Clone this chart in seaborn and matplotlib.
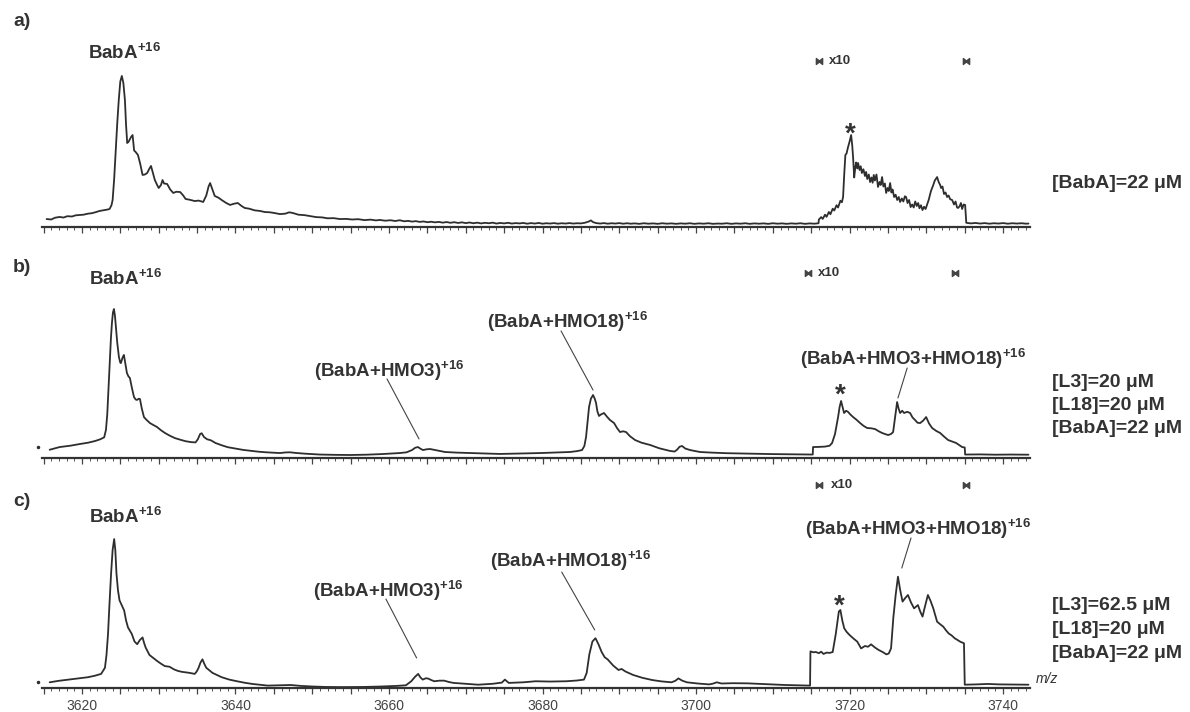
import numpy as np
import pandas as pd
import seaborn as sns
import matplotlib
matplotlib.use("Agg")
import matplotlib.pyplot as plt
from matplotlib.ticker import MultipleLocator, FuncFormatter

# ---------------- data (m/z, relative intensity) ----------------
a_mz = [3615.4, 3616.0, 3616.5, 3617.1, 3617.6, 3618.1, 3618.7, 3619.2, 3619.7, 3620.2, 3620.8, 3621.3,
        3621.8, 3622.3, 3622.9, 3623.3, 3623.6, 3623.85, 3624.0, 3624.2, 3624.4, 3624.6, 3624.8, 3625.0,
        3625.2, 3625.4, 3625.6, 3625.75, 3625.9, 3626.1, 3626.4, 3626.6, 3626.7, 3626.8, 3627.0, 3627.3,
        3627.6, 3627.9, 3628.2, 3628.5, 3628.8, 3629.0, 3629.3, 3629.5, 3629.8, 3630.0, 3630.3, 3630.5,
        3630.7, 3631.1, 3631.5, 3631.9, 3632.3, 3632.8, 3633.2, 3633.5, 3634.0, 3634.7, 3635.2, 3635.8,
        3636.2, 3636.5, 3636.7, 3637.0, 3637.3, 3637.8, 3638.2, 3638.8, 3639.3, 3639.8, 3640.3, 3640.8,
        3641.2, 3641.8, 3642.5, 3643.2, 3643.8, 3644.5, 3645.1, 3645.8, 3646.5, 3647.0, 3647.5, 3648.2,
        3649.0, 3649.7, 3650.5, 3651.3, 3652.0, 3652.8, 3653.6, 3654.4, 3655.2, 3656.0, 3656.8, 3657.6,
        3658.3, 3658.8, 3659.5, 3660.2, 3660.8, 3661.4,
        3662.0, 3662.5, 3663.0, 3663.5, 3664.0, 3664.5, 3665.0, 3665.5, 3666.0, 3666.5, 3667.0, 3667.5,
        3668.0, 3668.5, 3669.0, 3669.5, 3670.0, 3670.5, 3671.0, 3671.5, 3672.0, 3672.5, 3673.0, 3673.5,
        3674.0, 3674.5, 3675.0, 3675.5, 3676.0, 3676.5, 3677.0, 3677.5, 3678.0, 3678.5, 3679.0, 3679.5,
        3680.0, 3680.5, 3681.0, 3681.5, 3682.0, 3682.5, 3683.0, 3683.5, 3684.0, 3684.5, 3685.0, 3685.5,
        3686.0, 3686.3, 3686.6, 3687.0, 3687.5, 3688.0, 3688.5, 3689.0, 3689.5, 3690.0, 3690.5, 3691.0,
        3691.5, 3692.0, 3692.6, 3693.2, 3693.8, 3694.4, 3695.0, 3695.6, 3696.2, 3696.8, 3697.4, 3698.0,
        3698.6, 3699.2, 3699.8, 3700.4, 3701.0, 3701.6, 3702.2, 3702.8, 3703.4, 3704.0, 3704.6, 3705.2,
        3705.8, 3706.4, 3707.0, 3707.6, 3708.2, 3708.8, 3709.4, 3710.0, 3710.6, 3711.2, 3711.8, 3712.4,
        3713.0, 3713.6, 3714.2, 3714.8, 3715.4, 3715.95,
        3716.0, 3716.3, 3716.5, 3716.8, 3717.0, 3717.3, 3717.5, 3717.8, 3718.0, 3718.3, 3718.5, 3718.8,
        3719.0, 3719.15, 3719.3, 3719.45, 3719.6, 3719.8, 3720.0, 3720.2, 3720.35, 3720.46, 3720.6, 3720.75,
        3720.85, 3721.0, 3721.1, 3721.3, 3721.45, 3721.6, 3721.8, 3722.0, 3722.15, 3722.3, 3722.5, 3722.67,
        3722.85, 3723.0, 3723.15, 3723.3, 3723.5, 3723.7, 3723.9, 3724.05, 3724.23, 3724.4, 3724.6, 3724.76,
        3724.95, 3725.1, 3725.28, 3725.45, 3725.6, 3725.8, 3726.0, 3726.2, 3726.4, 3726.58, 3726.8, 3727.0,
        3727.2, 3727.36, 3727.55, 3727.75, 3727.95, 3728.15, 3728.35, 3728.55, 3728.75, 3728.93, 3729.1, 3729.3,
        3729.5, 3729.7, 3729.9, 3730.1, 3730.3, 3730.6, 3730.9, 3731.1, 3731.4, 3731.6, 3731.8, 3731.92,
        3732.1, 3732.3, 3732.5, 3732.7, 3732.9, 3733.1, 3733.36, 3733.6, 3733.8, 3734.0, 3734.14, 3734.35,
        3734.5, 3734.66, 3734.85, 3735.05, 3735.2,
        3735.8, 3736.4, 3737.0, 3737.6, 3738.2, 3738.8, 3739.4, 3740.0, 3740.6, 3741.2, 3741.8, 3742.4,
        3743.0, 3743.3]
a_int = [3.3, 3.0, 4.2, 4.7, 4.3, 5.2, 5.0, 5.8, 6.0, 6.2, 6.9, 7.2,
         7.9, 8.7, 9.2, 9.6, 10.0, 12.5, 16, 30, 49, 67, 82.7, 95,
         98.7, 94, 82.7, 66, 54, 55, 58, 59.3, 54, 49, 48, 46,
         40, 32.7, 33, 34, 37, 38.7, 33, 29.3, 26, 24, 26, 29.3,
         27, 26.7, 23, 20.7, 21.5, 21.3, 19, 16.7, 16.2, 15.3, 15.6, 14.7,
         19, 25, 27.3, 23, 18.7, 17.5, 16, 14, 12.7, 13.5, 14, 12,
         10.7, 10.2, 9.1, 8.7, 8.0, 7.8, 7.3, 6.6, 6.9, 7.8, 7.3, 6.2,
         5.9, 5.3, 4.6, 4.4, 3.8, 3.9, 3.3, 3.4, 3.0, 3.2, 2.6, 2.9,
         2.4, 2.7, 2.2, 2.5, 2.0, 2.5,
         1.8, 2.1, 1.6, 1.9, 1.4, 1.7, 1.2, 1.5, 1.1, 1.4, 0.9, 1.3,
         0.8, 1.2, 0.7, 1.1, 0.6, 1.0, 0.5, 0.9, 0.4, 0.8, 0.5, 0.9,
         0.3, 0.7, 0.4, 0.8, 0.3, 0.6, 0.4, 0.7, 0.2, 0.6, 0.3, 0.7,
         0.2, 0.5, 0.3, 0.6, 0.2, 0.5, 0.3, 0.6, 0.3, 0.5, 0.4, 0.8,
         1.6, 2.4, 1.2, 0.6, 0.3, 0.6, 0.2, 0.5, 0.3, 0.6, 0.2, 0.5,
         0.2, 0.4, 0.1, 0.5, 0.2, 0.4, 0.1, 0.5, 0.2, 0.4, 0.1, 0.4,
         0.2, 0.5, 0.1, 0.4, 0.2, 0.5, 0.1, 0.3, 0.2, 0.5, 0.1, 0.4,
         0.2, 0.5, 0.1, 0.4, 0.2, 0.4, 0.1, 0.5, 0.2, 0.4, 0.1, 0.4,
         0.2, 0.5, 0.1, 0.4, 0.2, 0.5,
         3.0, 4.6, 3.4, 6.2, 4.8, 8.0, 6.5, 10.2, 9.0, 12.5, 11.0, 15.5,
         14.5, 18, 33, 46, 47, 51.3, 55, 59.3, 52, 44, 31, 38,
         41, 37, 40.7, 36, 38.5, 34, 36.5, 32, 34.7, 30, 33, 28,
         31, 27.5, 32.7, 29, 33, 24.7, 28, 26, 31.3, 25, 27, 20.7,
         24, 22, 27.3, 21, 23, 18, 19.5, 16, 18, 14.7, 17, 15,
         18.5, 18, 14, 16, 11.3, 13, 11, 15, 12, 14, 10.5, 12.5,
         9.3, 11.5, 10, 13, 16, 22, 26, 29, 31.3, 28, 26, 24,
         25, 20, 21, 18, 19, 16.5, 16, 13, 15, 11, 10.7, 12,
         14, 10, 13, 12.7, 0.8,
         0.4, 0.7, 0.3, 0.6, 0.2, 0.5, 0.3, 0.6, 0.2, 0.5, 0.3, 0.5,
         0.2, 0.3]

b_mz = [3615.8, 3617.1, 3618.5, 3619.7, 3620.8, 3621.7, 3622.4, 3622.9, 3623.13, 3623.3, 3623.39, 3623.52,
        3623.65, 3623.78, 3623.91, 3624.04, 3624.17, 3624.3, 3624.43, 3624.6, 3624.82, 3625.0, 3625.08, 3625.3,
        3625.47, 3625.65, 3625.86, 3626.05, 3626.25, 3626.5, 3626.78, 3627.0, 3627.17, 3627.4, 3627.56, 3627.8,
        3628.08, 3628.4, 3628.86, 3629.3, 3629.77, 3630.3, 3630.81, 3631.4, 3632.1, 3632.8, 3633.5, 3634.2,
        3634.8, 3635.1, 3635.4, 3635.6, 3635.9, 3636.3, 3636.8, 3637.4, 3638.2, 3639.0, 3640.0, 3641.0,
        3642.0, 3643.0, 3644.0, 3645.0, 3645.8, 3646.5, 3647.1, 3647.8, 3649.0, 3651.0, 3653.0, 3654.9,
        3657.0, 3659.0, 3661.4, 3662.3, 3663.0, 3663.4, 3663.78, 3664.1, 3664.43, 3664.9, 3665.34, 3666.3,
        3667.3, 3668.8, 3670.55, 3672.5, 3674.46, 3676.5, 3678.0, 3679.67, 3681.5, 3683.58, 3684.5, 3685.15,
        3685.45, 3685.67, 3685.87, 3686.06, 3686.3, 3686.58, 3686.8, 3686.97, 3687.15, 3687.36, 3687.6, 3688.01,
        3688.4, 3688.79, 3689.32, 3689.7, 3690.1, 3690.5, 3690.88, 3691.4, 3692.05, 3692.9, 3694.01, 3695.2,
        3696.61, 3697.2, 3697.52, 3697.85, 3698.18, 3698.6, 3699.22, 3700.52, 3702.0, 3704.0, 3706.0, 3708.0,
        3710.0, 3712.0, 3714.0, 3715.2, 3715.24, 3716.0, 3716.8, 3717.4, 3717.72, 3718.1, 3718.5, 3718.7,
        3718.89, 3719.08, 3719.28, 3719.55, 3719.8, 3720.1, 3720.46, 3720.9, 3721.37, 3721.8, 3722.28, 3722.8,
        3723.32, 3723.8, 3724.23, 3724.6, 3725.02, 3725.4, 3725.67, 3725.9, 3726.19, 3726.38, 3726.58, 3726.85,
        3727.1, 3727.5, 3727.88, 3728.2, 3728.53, 3728.85, 3729.19, 3729.6, 3729.97, 3730.35, 3730.75, 3731.3,
        3731.79, 3732.3, 3732.83, 3733.35, 3733.88, 3734.3, 3734.66, 3735.0, 3735.05, 3737.0, 3739.0, 3741.0,
        3743.3]
b_int = [3.5, 5.3, 6.2, 7.3, 8.2, 9.3, 10.5, 11.8, 16.7, 27, 36.7, 50,
         65.3, 78, 88, 95, 97.3, 93, 85.3, 75, 65.3, 61.5, 61.3, 65,
         66.7, 61, 54.7, 52.5, 51.3, 45, 38.7, 37, 36.7, 37.5, 37.3, 31,
         25.3, 23.5, 21.3, 20, 18.7, 16.5, 14.7, 13, 11.3, 10.2, 9.2, 8.6,
         8.4, 10.5, 14, 14.5, 12, 10.5, 9.8, 8, 6.5, 5.2, 4.3, 3.4,
         2.8, 2.2, 1.8, 1.5, 1.3, 1.7, 1.8, 1.4, 0.9, 0.3, 0.1, 0.0,
         0.2, 0.6, 1.3, 1.8, 3.3, 4.8, 5.3, 4.2, 3.3, 3.8, 4.0, 3.0,
         2.0, 1.6, 1.3, 0.9, 0.7, 0.9, 1.1, 1.3, 1.6, 2.0, 2.6, 3.3,
         6, 12, 22, 32, 37.5, 40, 37.5, 34.7, 29, 26, 27, 28,
         25.5, 23.3, 21.3, 18, 15.3, 15.8, 15.3, 12.5, 10, 8.2, 6.7, 4.5,
         2.7, 2.3, 3.5, 5.5, 6.0, 4.3, 3.3, 2.0, 1.6, 1.2, 1.0, 0.8,
         0.6, 0.5, 0.4, 0.3, 5.3, 5.4, 5.6, 6.2, 8, 14, 25.3, 32,
         36, 32, 28, 29.5, 28.7, 27, 25.3, 23.5, 21.3, 19.5, 18, 17.8,
         17.3, 15.8, 14.7, 14, 13.3, 14, 15.3, 24, 35.3, 31, 28, 29.5,
         28, 28.8, 28, 25, 23.3, 21.5, 21.3, 23, 25.3, 21, 18, 16,
         14.7, 12.3, 10, 9, 8, 6.5, 5.3, 5.0, 0.3, 0.4, 0.2, 0.3,
         0.2]

c_mz = [3615.8, 3617.0, 3618.3, 3619.5, 3620.8, 3621.7, 3622.5, 3623.0, 3623.2, 3623.4, 3623.6, 3623.8,
        3624.0, 3624.2, 3624.35, 3624.5, 3624.7, 3624.9, 3625.2, 3625.5, 3625.75, 3626.0, 3626.5, 3626.85,
        3627.2, 3627.55, 3627.9, 3628.1, 3628.3, 3628.8, 3629.3, 3629.8, 3630.3, 3630.8, 3631.4, 3632.0,
        3632.5, 3633.0, 3634.0, 3634.7, 3634.95, 3635.2, 3635.45, 3635.7, 3635.95, 3636.2, 3637.0, 3638.2,
        3639.2, 3640.2, 3641.2, 3642.2, 3644.2, 3645.7, 3647.2, 3648.5, 3650.0, 3651.7, 3654.0, 3656.7,
        3659.0, 3661.0, 3662.2, 3662.9, 3663.4, 3663.8, 3664.1, 3664.4, 3664.8, 3665.1, 3665.5, 3665.9,
        3666.6, 3667.2, 3667.8, 3668.4, 3670.0, 3671.6, 3673.5, 3674.7, 3675.1, 3675.6, 3677.5, 3679.1,
        3681.0, 3683.1, 3684.5, 3685.4, 3685.75, 3686.1, 3686.5, 3686.9, 3687.3, 3687.7, 3688.1, 3688.5,
        3689.2, 3689.9, 3690.3, 3690.8, 3691.8, 3693.0, 3694.3, 3695.5, 3696.8, 3697.3, 3697.7, 3698.2,
        3698.8, 3700.2, 3701.7, 3702.2, 3702.7, 3703.3, 3704.8, 3706.7, 3708.8, 3711.6, 3714.6, 3714.85,
        3714.9, 3715.3, 3715.6, 3716.0, 3716.3, 3716.6, 3717.0, 3717.4, 3717.8, 3718.2, 3718.6, 3718.8,
        3719.05, 3719.3, 3719.6, 3720.0, 3720.5, 3721.0, 3721.5, 3722.0, 3722.4, 3722.8, 3723.3, 3723.8,
        3724.3, 3724.8, 3725.1, 3725.4, 3725.7, 3726.0, 3726.3, 3726.6, 3726.9, 3727.25, 3727.6, 3728.0,
        3728.4, 3728.9, 3729.2, 3729.5, 3729.85, 3730.2, 3730.55, 3730.9, 3731.4, 3731.8, 3732.2, 3732.55,
        3732.9, 3733.3, 3733.7, 3734.0, 3734.4, 3734.9, 3735.0, 3736.5, 3738.0, 3739.5, 3741.0, 3743.3]
c_int = [1.8, 2.8, 3.6, 4.4, 5.2, 6.2, 7.4, 11.5, 20, 34, 55, 74.4,
         90, 97.3, 90, 74.4, 63, 56.4, 53, 49.7, 43, 38.4, 34, 29,
         27.2, 30, 31.7, 28, 25, 20, 18, 16, 14.2, 12.6, 12.2, 10.4,
         9.4, 8.8, 8.1, 7.4, 9, 11.5, 15, 17.1, 14, 11.5, 8.1, 5.2,
         3.6, 2.5, 1.5, 0.7, -0.4, -0.2, 0.0, -0.6, -1.0, -1.3, -1.4, -1.3,
         -1.0, -0.6, -0.2, 2.5, 5.5, 7.4, 5, 3.6, 4.5, 4.3, 3.3, 2.5,
         2.9, 2.9, 2.0, 1.4, 0.8, 0.2, 0.8, 1.6, 3.6, 1.4, 1.8, 2.5,
         2.3, 2.5, 3.0, 3.6, 8, 20.5, 29, 31.2, 27, 22, 18.5, 17,
         13, 10, 10.7, 9, 6.7, 4.8, 3.3, 2.4, 1.8, 2.8, 4.4, 2.9,
         1.8, 1.0, 0.4, 0.9, 1.8, 1.0, 1.2, 1.1, 0.6, 0.0, -0.4, -0.4,
         22.4, 21.8, 22, 21.2, 22.2, 20.7, 21.6, 21.4, 22, 34, 49, 50,
         43, 37.8, 35.5, 33.3, 31, 28.9, 24.4, 26, 25.5, 27.1, 25, 23.3,
         22, 20.4, 21, 24.4, 45, 60, 72.2, 63, 55.6, 58, 60, 55,
         51.1, 53.3, 49, 45.6, 53, 60, 56, 51.1, 42.2, 40.5, 38.9, 36.5,
         34.4, 33, 31.1, 30.2, 28.9, 27.8, 0.2, 0.4, 0.7, 0.4, 0.3, 0.2]

tick_labels = ["3620", "3640", "3660", "3680", "3700", "3720", "3740"]
panel_letters = ["a)", "b)", "c)"]
conditions = [["[BabA]=22 μM"],
              ["[L3]=20 μM", "[L18]=20 μM", "[BabA]=22 μM"],
              ["[L3]=62.5 μM", "[L18]=20 μM", "[BabA]=22 μM"]]

# ---------------- style ----------------
sns.set_style("white")
plt.rcParams["font.family"] = ["Liberation Sans", "DejaVu Sans"]
plt.rcParams["mathtext.fontset"] = "custom"
plt.rcParams["mathtext.rm"] = "Liberation Sans:bold"
plt.rcParams["mathtext.bf"] = "Liberation Sans:bold"
plt.rcParams["mathtext.it"] = "Liberation Sans:italic:bold"

LINE = "#2e2e2e"
TXT = "#333333"
W, H = 1190, 712
FS = 13.5

fig = plt.figure(figsize=(W / 100, H / 100), dpi=100)

axis_px = [227, 458, 688]          # pixel row of each panel's baseline
XMIN, XMAX = 3614.8, 3743.5
YMIN, YMAX = -2, 136
left, right = 42 / W, 1030 / W
ax_h = (YMAX - YMIN) * 1.5 / H

traces = [(a_mz, a_int), (b_mz, b_int), (c_mz, c_int)]
axes = []
for i, (mz, it) in enumerate(traces):
    ax = fig.add_axes([left, 1 - axis_px[i] / H, right - left, ax_h])
    df = pd.DataFrame({"mz": mz, "I": it})
    sns.lineplot(data=df, x="mz", y="I", ax=ax, color=LINE, linewidth=1.3,
                 estimator=None, sort=False)
    ax.set_xlim(XMIN, XMAX)
    ax.set_ylim(YMIN, YMAX)
    ax.set_xlabel("")
    ax.set_ylabel("")
    ax.set_yticks([])
    for s in ["top", "left", "right"]:
        ax.spines[s].set_visible(False)
    ax.spines["bottom"].set_color("#333333")
    ax.spines["bottom"].set_linewidth(1.6)
    ax.xaxis.set_major_locator(MultipleLocator(5))
    ax.xaxis.set_minor_locator(MultipleLocator(1))
    ax.tick_params(axis="x", which="both", bottom=True)
    ax.tick_params(axis="x", which="major", length=4, width=0.9, color="#444444",
                   direction="out", pad=4, labelsize=10, labelcolor="#444444")
    ax.tick_params(axis="x", which="minor", length=2.5, width=0.7, color="#555555", direction="out")
    if i == 2:
        ax.xaxis.set_major_formatter(FuncFormatter(
            lambda v, p: str(int(round(v))) if str(int(round(v))) in tick_labels else ""))
    else:
        ax.xaxis.set_major_formatter(FuncFormatter(lambda v, p: ""))
    ax.patch.set_alpha(0)
    axes.append(ax)

def lab(ax, m, v, s, size=FS):
    ax.text(m, v, s, ha="center", va="baseline", fontsize=size, fontweight="bold",
            color=TXT, clip_on=False)

def leader(ax, m1, v1, m2, v2):
    ax.plot([m1, m2], [v1, v2], color="#444444", lw=0.8, clip_on=False)

def x10(ax, mt, vt, m1, m2):
    ax.text(mt, vt, "x10", ha="center", va="center", fontsize=9.5, fontweight="bold", color=TXT)
    ax.plot([m1, m2], [vt, vt], ls="none", marker=r"$\bowtie$", ms=4.5, color="#444444")

def star(ax, m, v):
    ax.text(m, v, "*", ha="center", va="baseline", fontsize=20, fontweight="bold", color=TXT)

# panel a
ax = axes[0]
lab(ax, 3625.5, 110, "BabA$^{+16}$")
star(ax, 3720.1, 54.7)
x10(ax, 3718.7, 108.7, 3716.0, 3735.2)

# panel b
ax = axes[1]
lab(ax, 3625.7, 113, "BabA$^{+16}$")
lab(ax, 3660.1, 52, "(BabA+HMO3)$^{+16}$")
leader(ax, 3659.74, 50.7, 3663.91, 10.7)
lab(ax, 3683.2, 84.7, "(BabA+HMO18)$^{+16}$")
leader(ax, 3682.41, 82.7, 3686.58, 43.3)
lab(ax, 3728.3, 60, "(BabA+HMO3+HMO18)$^{+16}$")
leader(ax, 3727.5, 58, 3726.3, 38)
star(ax, 3718.8, 34.7)
x10(ax, 3717.3, 121.3, 3714.6, 3733.7)
ax.plot([3614.3], [5], ls="none", marker="o", ms=1.5, color=LINE, clip_on=False)

# panel c
ax = axes[2]
lab(ax, 3625.7, 108, "BabA$^{+16}$")
lab(ax, 3659.9, 58.7, "(BabA+HMO3)$^{+16}$")
leader(ax, 3659.6, 57.3, 3663.6, 18)
lab(ax, 3683.6, 78.7, "(BabA+HMO18)$^{+16}$")
leader(ax, 3682.5, 75.3, 3686.8, 36.7)
lab(ax, 3728.9, 100, "(BabA+HMO3+HMO18)$^{+16}$")
leader(ax, 3728.0, 98, 3726.8, 78)
star(ax, 3718.6, 47.3)
x10(ax, 3719.0, 133.3, 3716.0, 3735.2)
ax.plot([3614.3], [2], ls="none", marker="o", ms=1.5, color=LINE, clip_on=False)

# panel letters
for y, t in zip([22, 268, 502], panel_letters):
    fig.text(22 / W, 1 - y / H, t, ha="center", va="center", fontsize=14,
             fontweight="bold", color=TXT)

# condition texts
cond_y = [[183], [383, 406, 429], [606, 630, 654]]
for ys, lines in zip(cond_y, conditions):
    for y, t in zip(ys, lines):
        fig.text(1052 / W, 1 - y / H, t, ha="left", va="center", fontsize=14,
                 fontweight="bold", color=TXT)

fig.text(1036 / W, 1 - 679 / H, "m/z", ha="left", va="center", fontsize=10,
         style="italic", color=TXT)

fig.savefig("out.png", dpi=100)
